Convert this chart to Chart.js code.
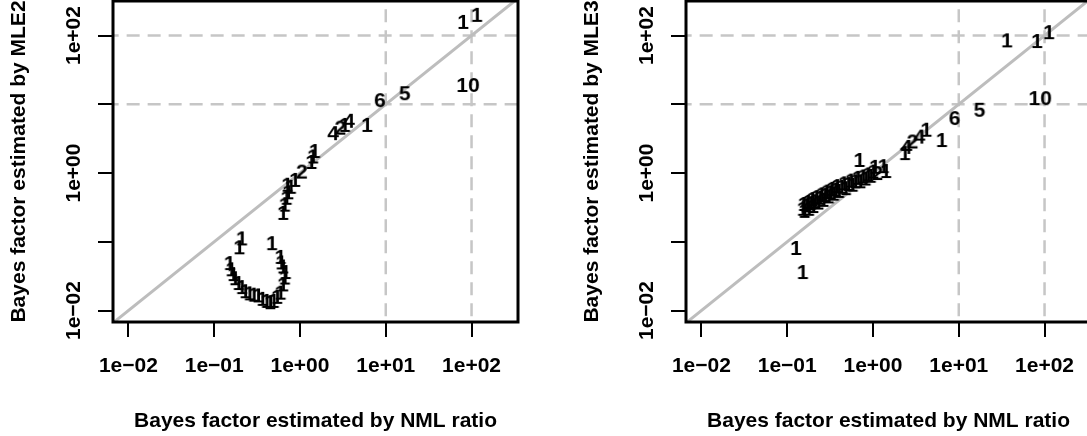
<!DOCTYPE html>
<html>
<head>
<meta charset="utf-8">
<script src="https://cdn.jsdelivr.net/npm/chart.js@4.4.1/dist/chart.umd.min.js"></script>
<style>
  html, body { margin: 0; padding: 0; background: #fff; overflow: hidden; }
  body { width: 1087px; height: 436px; position: relative; }
  canvas { position: absolute; top: 0; }
  #left { left: 0; }
  #right { left: 573px; }
</style>
</head>
<body>
<canvas id="left" width="560" height="436"></canvas>
<canvas id="right" width="560" height="436"></canvas>
<script>
// axis ticks: one per decade; the y axis only labels the even powers
const decades = [0.01, 0.1, 1, 10, 100];
const xTickLabels = ['1e\u221202', '1e\u221201', '1e+00', '1e+01', '1e+02'];
const yTickLabels = ['1e\u221202', '', '1e+00', '', '1e+02'];
const xLim = [0.00661, 348];
const yLim = [0.00681, 318];
const refLines = [10, 100];
const xTitle = 'Bayes factor estimated by NML ratio';

// left panel: MLE2 against NML ratio
const mle2X = [0.151, 0.158, 0.166, 0.174, 0.191, 0.209, 0.229, 0.257, 0.288, 0.324, 0.363, 0.407, 0.447,
    0.490, 0.537, 0.589, 0.631, 0.661, 0.676, 0.631, 0.603, 0.589, 0.209, 0.195, 0.468,
    0.631, 0.661, 0.692, 0.724, 0.708, 0.776, 0.871, 1.05, 1.35, 1.41, 1.48,
    2.43, 2.95, 3.72, 3.31, 6.03, 8.51, 16.6, 91.2, 79.4, 115];
const mle2Y = [0.0490, 0.0398, 0.0339, 0.0295, 0.0251, 0.0219, 0.0191, 0.0178, 0.0170, 0.0166, 0.0148, 0.0138, 0.0132,
    0.0138, 0.0158, 0.0182, 0.0240, 0.0302, 0.0363, 0.0437, 0.0501, 0.0603, 0.112, 0.0832, 0.0955,
    0.263, 0.347, 0.437, 0.525, 0.676, 0.631, 0.794, 1.05, 1.45, 1.74, 2.09,
    3.80, 4.57, 5.75, 5.01, 5.01, 11.5, 14.5, 19.1, 158, 200];
const mle2Lab = ['1', '1', '1', '1', '1', '1', '1', '1', '1', '1', '1', '1', '1',
    '1', '1', '1', '1', '1', '1', '1', '1', '1', '1', '1', '1',
    '1', '1', '1', '1', '1', '1', '1', '2', '1', '1', '1',
    '4', '2', '4', '1', '1', '6', '5', '10', '1', '1'];

// right panel: MLE3 against NML ratio
const mle3X = [0.151, 0.155, 0.158, 0.166, 0.174, 0.178, 0.186, 0.195, 0.200, 0.209, 0.219, 0.229, 0.240,
    0.251, 0.263, 0.275, 0.288, 0.302, 0.316, 0.331, 0.347, 0.363, 0.380, 0.398, 0.427, 0.457, 0.479,
    0.513, 0.550, 0.575, 0.617, 0.661, 0.708, 0.759, 0.813, 0.871, 0.933, 1.00,
    0.692, 1.05, 1.32, 1.41, 1.12,
    2.34, 2.45, 2.88, 3.47, 4.17, 6.31, 8.91, 17.4, 89.1, 36.3, 81.3, 112,
    0.126, 0.151];
const mle3Y = [0.302, 0.355, 0.282, 0.339, 0.380, 0.302, 0.363, 0.417, 0.331, 0.389, 0.447, 0.372, 0.437,
    0.490, 0.407, 0.479, 0.537, 0.457, 0.525, 0.589, 0.501, 0.575, 0.646, 0.550, 0.631, 0.708, 0.603,
    0.692, 0.776, 0.676, 0.759, 0.851, 0.759, 0.891, 0.832, 0.955, 0.912, 1.05,
    1.55, 1.23, 1.26, 1.07, 1.00,
    1.95, 2.40, 2.88, 3.39, 4.27, 3.02, 6.31, 8.32, 12.3, 85.1, 83.2, 112,
    0.0813, 0.0363];
const mle3Lab = ['1', '1', '1', '1', '1', '1', '1', '1', '1', '1', '1', '1', '1',
    '1', '1', '1', '1', '1', '1', '1', '1', '1', '1', '1', '1', '1', '1',
    '1', '1', '1', '1', '1', '1', '1', '1', '1', '1', '1',
    '1', '1', '1', '1', '2',
    '1', '4', '2', '4', '1', '1', '6', '5', '10', '1', '1', '1',
    '1', '1'];

const FONT = 'bold 21px "Liberation Sans", Arial, sans-serif';
const fontOpt = { family: '"Liberation Sans", Arial, sans-serif', size: 21, weight: 'bold' };

// each count is drawn as text, so turn each label into a small canvas used as point style
const glyphs = {};
function glyph(txt) {
    if (glyphs[txt]) return glyphs[txt];
    const c = document.createElement('canvas');
    let g = c.getContext('2d');
    g.font = FONT;
    c.width = Math.ceil(g.measureText(txt).width) + 2;
    c.height = 24;
    g = c.getContext('2d');
    g.font = FONT;
    g.fillStyle = '#000';
    g.textAlign = 'center';
    g.textBaseline = 'middle';
    g.fillText(txt, c.width / 2, 13);
    glyphs[txt] = c;
    return c;
}

// box around the plot + rotated y tick labels
const frame = {
    id: 'frame',
    afterDraw(chart) {
        const { ctx, chartArea: a } = chart;
        const y = chart.scales.y;
        ctx.save();
        ctx.strokeStyle = '#000';
        ctx.lineWidth = 3;
        ctx.strokeRect(a.left, a.top, a.right - a.left, a.bottom - a.top);
        ctx.font = FONT;
        ctx.fillStyle = '#000';
        ctx.textAlign = 'center';
        ctx.textBaseline = 'middle';
        decades.forEach((v, i) => {
            if (!yTickLabels[i]) return;
            ctx.save();
            ctx.translate(a.left - 39, y.getPixelForValue(v));
            ctx.rotate(-Math.PI / 2);
            ctx.fillText(yTickLabels[i], 0, 0);
            ctx.restore();
        });
        ctx.restore();
    }
};

function refLine(pts) {
    return {
        type: 'line', data: pts, borderColor: '#c6c6c6', borderWidth: 2.5,
        borderDash: [13, 8], pointRadius: 0, order: 2
    };
}

function makePanel(id, xs, ys, labs, yTitle) {
    const pts = xs.map((x, i) => ({ x: x, y: ys[i] }));
    const axisGrid = { drawOnChartArea: false, drawTicks: true, tickLength: 15, lineWidth: 2, color: '#000', tickColor: '#000' };
    return new Chart(document.getElementById(id), {
        type: 'scatter',
        data: {
            datasets: [
                { data: pts, pointStyle: labs.map(glyph), pointRadius: 3, order: 0 },
                {
                    type: 'line', data: [{ x: 0.001, y: 0.001 }, { x: 1000, y: 1000 }],
                    borderColor: '#bdbdbd', borderWidth: 3, pointRadius: 0, order: 1
                },
                ...refLines.map(v => refLine([{ x: v, y: 0.001 }, { x: v, y: 1000 }])),
                ...refLines.map(v => refLine([{ x: 0.001, y: v }, { x: 1000, y: v }]))
            ]
        },
        options: {
            responsive: false,
            animation: false,
            events: [],
            layout: { autoPadding: false, padding: { left: 0, right: 42, top: 1, bottom: 0 } },
            plugins: { legend: { display: false }, tooltip: { enabled: false } },
            scales: {
                x: {
                    type: 'logarithmic', bounds: 'data', min: xLim[0], max: xLim[1],
                    afterBuildTicks: s => { s.ticks = decades.map(v => ({ value: v })); },
                    afterFit: s => { s.height = 114; },
                    grid: axisGrid,
                    border: { display: false },
                    ticks: {
                        color: '#000', font: fontOpt, padding: 17, autoSkip: false, maxRotation: 0,
                        callback: (v, i) => xTickLabels[i]
                    },
                    title: { display: true, text: xTitle, color: '#000', font: fontOpt, padding: { top: 0, bottom: 2 } }
                },
                y: {
                    type: 'logarithmic', bounds: 'data', min: yLim[0], max: yLim[1],
                    afterBuildTicks: s => { s.ticks = decades.map(v => ({ value: v })); },
                    afterFit: s => { s.width = 113; },
                    grid: axisGrid,
                    border: { display: false },
                    ticks: { display: false },
                    title: { display: true, text: yTitle, color: '#000', font: fontOpt, padding: { top: 7, bottom: 0 } }
                }
            }
        },
        plugins: [frame]
    });
}

makePanel('left', mle2X, mle2Y, mle2Lab, 'Bayes factor estimated by MLE2');
makePanel('right', mle3X, mle3Y, mle3Lab, 'Bayes factor estimated by MLE3');
</script>
</body>
</html>
